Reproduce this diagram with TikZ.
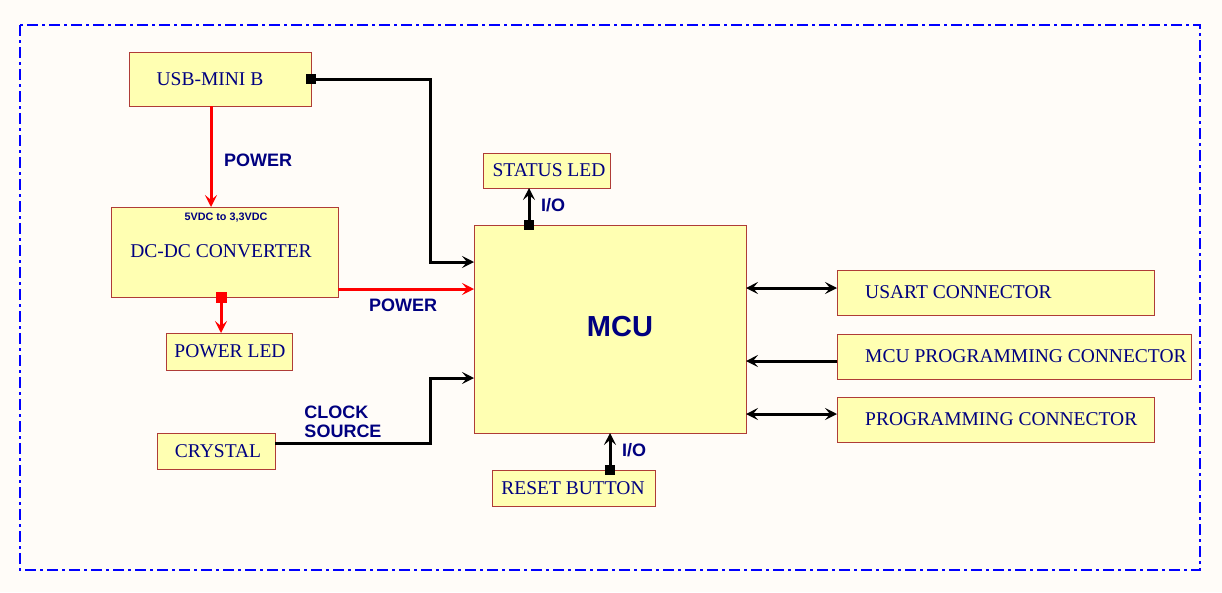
\documentclass[tikz,border=0pt]{standalone}
\usepackage{fontspec}
\setmainfont{Liberation Serif}
\setsansfont{Liberation Sans}
\usetikzlibrary{arrows.meta}
\definecolor{bg}{RGB}{255,252,248}
\definecolor{boxfill}{RGB}{255,255,178}
\definecolor{boxline}{RGB}{175,60,55}
\definecolor{navy}{RGB}{0,0,128}
\definecolor{frameblue}{RGB}{0,0,255}
\tikzset{
  box/.style={draw=boxline, fill=boxfill, line width=1.1pt, anchor=north west, inner sep=0pt},
  txt/.style={font=\fontsize{19.5}{19.5}\selectfont, text=navy, inner sep=0pt},
  lbl/.style={font=\sffamily\bfseries\fontsize{18}{18}\selectfont, text=navy, inner sep=0pt, align=left},
  wire/.style={line width=3pt, black},
  pwr/.style={line width=3pt, red},
  tip/.style={-{Stealth[length=12pt,width=12pt,inset=5pt]}},
  dtip/.style={{Stealth[length=12pt,width=12pt,inset=5pt]}-{Stealth[length=12pt,width=12pt,inset=5pt]}},
  sq/.style={fill=black, minimum size=10pt, inner sep=0pt},
  rsq/.style={fill=red, minimum size=11pt, inner sep=0pt},
}
\begin{document}
\begin{tikzpicture}[x=1pt,y=-1pt]
\fill[bg] (0,0) rectangle (1222,592);
\useasboundingbox (0,0) rectangle (1222,592);
\draw[frameblue, line width=2.5pt, dash pattern=on 11pt off 4pt on 3pt off 4pt] (20,25) rectangle (1200,570);

% boxes
\node[box, minimum width=182pt, minimum height=54pt] (usb) at (129,52) {};
\node[txt] (usbt) at (210,79) {USB-MINI B};
\node[box, minimum width=227pt, minimum height=90pt] (dcdc) at (111,207) {};
\node[font=\sffamily\bfseries\fontsize{10.8}{10.8}\selectfont, text=navy, inner sep=0pt] (dcdcs) at (226,218) {5VDC to 3,3VDC};
\node[txt] (dcdct) at (221,251) {DC-DC CONVERTER};
\node[box, minimum width=126pt, minimum height=37pt] (pled) at (166,333) {};
\node[txt] (pledt) at (230,351) {POWER LED};
\node[box, minimum width=118pt, minimum height=36pt] (xtal) at (157,433) {};
\node[txt] (xtalt) at (218,451) {CRYSTAL};
\node[box, minimum width=272pt, minimum height=208pt] (mcu) at (474,225) {};
\node[font=\sffamily\bfseries\fontsize{29}{29}\selectfont, text=navy, inner sep=0pt] (mcut) at (620,327) {MCU};
\node[box, minimum width=127pt, minimum height=35pt] (sled) at (483,153) {};
\node[txt] (sledt) at (549,170) {STATUS LED};
\node[box, minimum width=163pt, minimum height=36pt] (rst) at (492,470) {};
\node[txt] (rstt) at (573,488) {RESET BUTTON};
\node[box, minimum width=317pt, minimum height=45pt] (usart) at (837,270) {};
\node[txt, anchor=west] (usartt) at (865,292) {USART CONNECTOR};
\node[box, minimum width=354pt, minimum height=45pt] (mcup) at (837,334) {};
\node[txt, anchor=west] (mcupt) at (865,356) {MCU PROGRAMMING CONNECTOR};
\node[box, minimum width=317pt, minimum height=45pt] (prog) at (837,397) {};
\node[txt, anchor=west] (progt) at (865,419) {PROGRAMMING CONNECTOR};

% coordinates
\coordinate (usbout) at (311,79);
\coordinate (mcuA) at (474,262);
\coordinate (usbbot) at (211,106);
\coordinate (dctop) at (211,207);
\coordinate (dcout) at (338,289);
\coordinate (mcuB) at (474,289);
\coordinate (dcbot) at (221,297);
\coordinate (pledtop) at (221,333);
\coordinate (xout) at (275,443);
\coordinate (mcuC) at (474,378);
\coordinate (mcutop) at (529,225);
\coordinate (sledbot) at (529,188);
\coordinate (rsttop) at (610,470);
\coordinate (mcubot) at (610,433);
\coordinate (mR1) at (746,288);
\coordinate (cR1) at (837,288);
\coordinate (mR2) at (746,361);
\coordinate (cR2) at (837,361);
\coordinate (mR3) at (746,414);
\coordinate (cR3) at (837,414);

% connectors
\draw[wire, tip] (usbout) -| (430,262) -- (mcuA);
\node[sq] (usbsq) at (usbout) {};
\draw[pwr, tip] (usbbot) -- (dctop);
\node[lbl] (p1) at (258,160) {POWER};
\draw[pwr, tip] (dcout) -- (mcuB);
\node[lbl] (p2) at (403,305) {POWER};
\draw[pwr, tip] (dcbot) -- (pledtop);
\node[rsq] (dcsq) at (dcbot) {};
\draw[wire, tip] (xout) -| (430,378) -- (mcuC);
\node[lbl, align=left] (clk) at (343,422) {CLOCK\\[1pt]SOURCE};
\draw[wire, tip] (mcutop) -- (sledbot);
\node[sq] (mcusq) at (mcutop) {};
\node[lbl] (io1) at (553,205) {I/O};
\draw[wire, tip] (rsttop) -- (mcubot);
\node[sq] (rstsq) at (rsttop) {};
\node[lbl] (io2) at (634,450) {I/O};
\draw[wire, dtip] (mR1) -- (cR1);
\draw[wire, tip] (cR2) -- (mR2);
\draw[wire, dtip] (mR3) -- (cR3);
\end{tikzpicture}
\end{document}
